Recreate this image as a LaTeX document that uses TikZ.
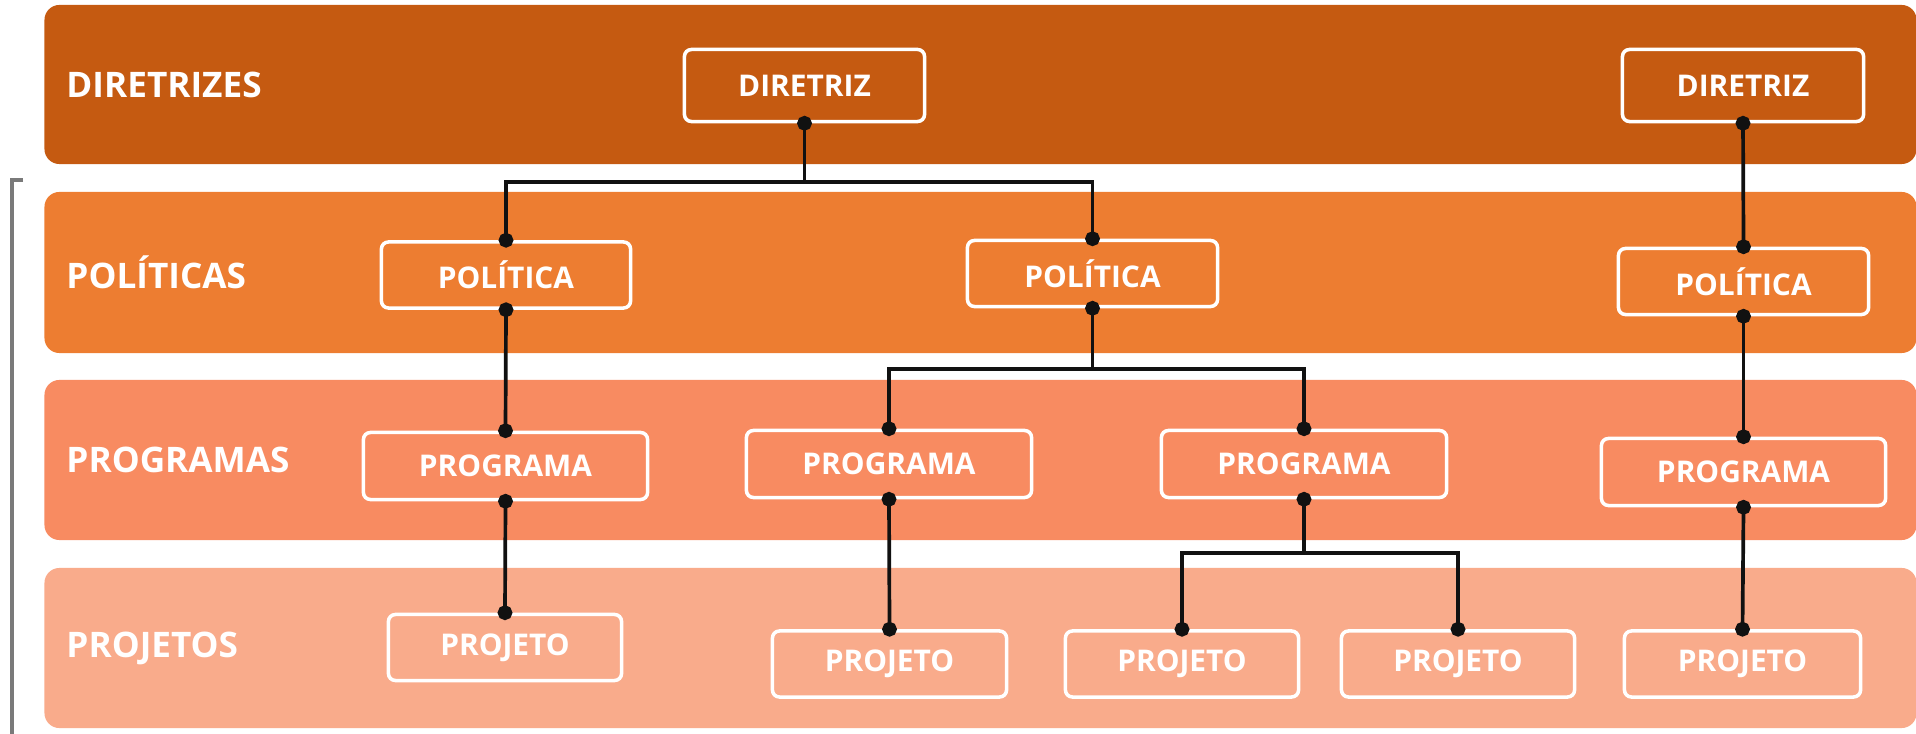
\documentclass[tikz,border=0pt]{standalone}
\usepackage{fontspec}
\setmainfont{Open Sans}
\usepackage{tikz}
\usetikzlibrary{arrows.meta,positioning,calc}

\definecolor{bandA}{HTML}{C55A11}
\definecolor{bandB}{HTML}{ED7D31}
\definecolor{bandC}{HTML}{F88B61}
\definecolor{bandD}{HTML}{F9AB8B}
\definecolor{wire}{HTML}{111111}
\definecolor{rim}{HTML}{7A7A7A}

\begin{document}
\begin{tikzpicture}[
    x=0.01cm, y=-0.01cm,
    band/.style={rounded corners=0.15cm, minimum height=1.59cm, minimum width=18.71cm, inner sep=0pt},
    lbl/.style={text=white, font=\fontsize{10}{12}\selectfont\bfseries, inner sep=0pt},
    box/.style={draw=white, line width=1pt, rounded corners=0.07cm, text=white, font=\fontsize{8.5}{10}\selectfont\bfseries, inner sep=0pt, minimum height=0.66cm},
    link/.style={wire, line width=1.05pt, {Circle[length=4.2pt]}-{Circle[length=4.2pt]}, shorten <=-2.1pt, shorten >=-2.1pt},
    half/.style={wire, line width=1.05pt, -{Circle[length=4.2pt]}, shorten >=-2.1pt}
]
\useasboundingbox (0,0) rectangle (1916,734);

\node[band, fill=bandA] (b1) at (980.5,84.5) {};
\node[band, fill=bandB, minimum height=1.61cm] (b2) at (980.5,272.5) {};
\node[band, fill=bandC, minimum height=1.60cm] (b3) at (980.5,460) {};
\node[band, fill=bandD, minimum height=1.60cm] (b4) at (980.5,648) {};

\node[lbl, right=0.22cm of b1.west] (l1) {DIRETRIZES};
\node[lbl, right=0.22cm of b2.west] (l2) {POLÍTICAS};
\node[lbl, right=0.22cm of b3.west] (l3) {PROGRAMAS};
\node[lbl, right=0.22cm of b4.west] (l4) {PROJETOS};

\draw[rim, line width=1pt] (23,180) -- (12,180) -- (12,734);

\node[box, minimum width=2.40cm, minimum height=0.72cm] (d1) at (804.5,85.5) {DIRETRIZ};
\node[box, minimum width=2.41cm, minimum height=0.72cm] (d2) at (1743,85.5) {DIRETRIZ};

\node[box, minimum width=2.49cm] (p1) at (506,275) {POLÍTICA};
\node[box, minimum width=2.50cm] (p2) at (1092.5,273.5) {POLÍTICA};
\node[box, minimum width=2.50cm] (p3) at (1743.5,281.5) {POLÍTICA};

\node[box, minimum width=2.84cm, minimum height=0.67cm] (g1) at (505.5,466) {PROGRAMA};
\node[box, minimum width=2.85cm, minimum height=0.67cm] (g2) at (889,464) {PROGRAMA};
\node[box, minimum width=2.85cm, minimum height=0.67cm] (g3) at (1304,464) {PROGRAMA};
\node[box, minimum width=2.84cm, minimum height=0.67cm] (g4) at (1743.5,472) {PROGRAMA};

\node[box, minimum width=2.33cm] (j1) at (505,647.5) {PROJETO};
\node[box, minimum width=2.34cm] (j2) at (889.5,664) {PROJETO};
\node[box, minimum width=2.33cm] (j3) at (1182,664) {PROJETO};
\node[box, minimum width=2.33cm] (j4) at (1458,664) {PROJETO};
\node[box, minimum width=2.36cm] (j5) at (1742.5,664) {PROJETO};

\coordinate (k1) at ($(d1.south)+(0,59)$);
\coordinate (k2) at ($(p2.south)+(0,61)$);
\coordinate (k3) at ($(g3.south)+(0,54)$);

\draw[link] (d1.south) -- (k1) -| (p1.north);
\draw[half] (k1) -| (p2.north);
\draw[link] (d2.south) -- (p3.north);

\draw[link] (p1.south) -- (g1.north);
\draw[link] (p2.south) -- (k2) -| (g2.north);
\draw[half] (k2) -| (g3.north);
\draw[link] (p3.south) -- (g4.north);

\draw[link] (g1.south) -- (j1.north);
\draw[link] (g2.south) -- (j2.north);
\draw[link] (g3.south) -- (k3) -| (j3.north);
\draw[half] (k3) -| (j4.north);
\draw[link] (g4.south) -- (j5.north);
\end{tikzpicture}
\end{document}
